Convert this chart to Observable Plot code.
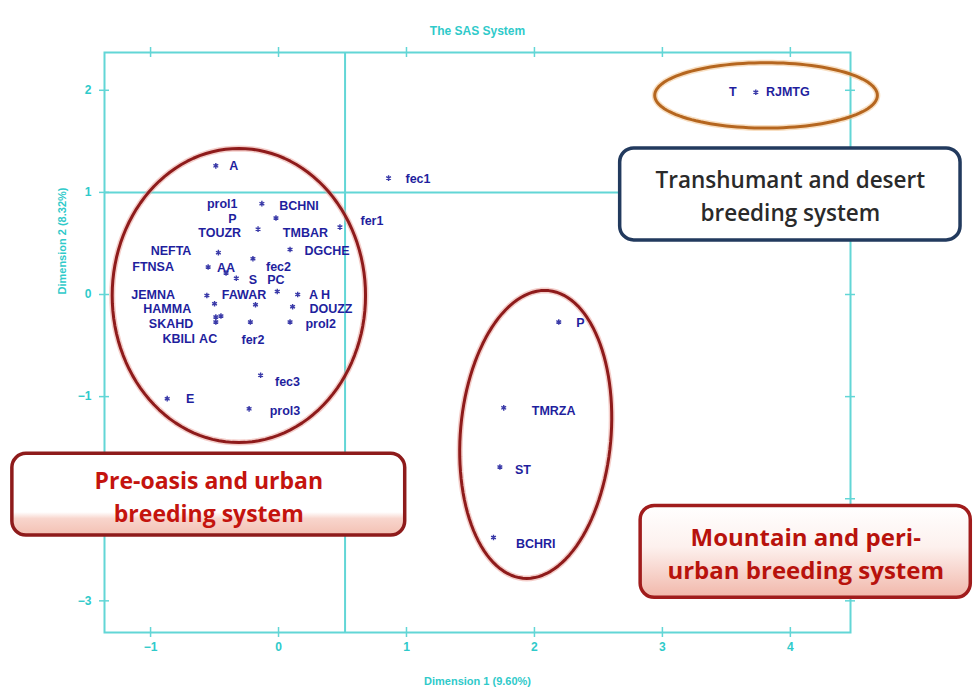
<!DOCTYPE html>
<html><head><meta charset="utf-8">
<script src="https://cdn.jsdelivr.net/npm/d3@7"></script>
<script src="https://cdn.jsdelivr.net/npm/@observablehq/plot@0.6"></script>
<style>body{margin:0;background:#fff}</style>
</head><body><div id="chart"></div>
<script>
// ---- data (Dimension 1 / Dimension 2 coordinates) ----
const pointX = [-0.49, 0.86, 3.73, -0.13, -0.02, -0.16, 0.48, -0.47, 0.09, -0.55, -0.20, -0.41, -0.33, -0.56, -0.01, 0.15, -0.50, -0.18, 0.11, -0.49, -0.45, -0.49, -0.22, 0.09, -0.14, -0.23, -0.87, 2.19, 1.76, 1.73, 1.68];
const pointY = [1.26, 1.14, 1.98, 0.89, 0.75, 0.64, 0.66, 0.41, 0.44, 0.27, 0.35, 0.21, 0.16, -0.01, 0.03, 0.00, -0.09, -0.10, -0.12, -0.22, -0.21, -0.27, -0.27, -0.27, -0.79, -1.12, -1.02, -0.27, -1.11, -1.69, -2.38];

const labelText = ["A","fec1","fer1","T","RJMTG","prol1","BCHNI","P","TOUZR","TMBAR","NEFTA","DGCHE","FTNSA","AA","fec2","S","PC","JEMNA","FAWAR","A H","HAMMA","DOUZZ","SKAHD","prol2","KBILI","AC","fer2","fec3","prol3","E","P","TMRZA","ST","BCHRI"];
const labelX = [-0.35, 1.09, 0.73, 3.55, 3.98, -0.44, 0.16, -0.36, -0.46, 0.21, -0.84, 0.38, -0.98, -0.41, 0.00, -0.20, -0.02, -0.98, -0.27, 0.32, -0.87, 0.41, -0.84, 0.33, -0.78, -0.55, -0.20, 0.07, 0.05, -0.69, 2.36, 2.15, 1.91, 2.01];
const labelY = [1.26, 1.13, 0.72, 1.98, 1.98, 0.885, 0.87, 0.74, 0.60, 0.60, 0.43, 0.43, 0.27, 0.26, 0.27, 0.14, 0.14, 0.00, 0.00, 0.00, -0.145, -0.14, -0.285, -0.29, -0.44, -0.44, -0.45, -0.86, -1.14, -1.02, -0.28, -1.14, -1.72, -2.44];

const xTicks = [-1, 0, 1, 2, 3, 4];
const yTicks = [2, 1, 0, -1, -2, -3];
const xDomain = [-1.36, 4.47];
const yDomain = [-3.31, 2.37];
const refX = [0.52];
const refY = [1.0];

const titleText = "The SAS System";
const xLabel = "Dimension 1 (9.60%)";
const yLabel = "Dimension 2 (8.32%)";

// group ellipses: center, radii and lean in data units
const ellipseCx = [-0.31, 2.01, 3.81];
const ellipseCy = [-0.01, -1.37, 1.95];
const ellipseRx = [0.99, 0.59, 0.87];
const ellipseRy = [1.44, 1.41, 0.32];
const ellipseLean = [0.0, 0.07, 0.0];
const ellipseColor = ["#8e1b1b", "#8e1b1b", "#b5661f"];
const ellipseHalo = ["#eba69e", "#eba69e", "#f3c58f"];

// annotation boxes
const boxText = ["Transhumant and desert\nbreeding system", "Pre-oasis and urban\nbreeding system", "Mountain and peri-\nurban breeding system"];
const boxX1 = [2.67, -2.08, 2.83];
const boxX2 = [5.33, 0.99, 5.41];
const boxY1 = [0.53, -2.36, -2.97];
const boxY2 = [1.43, -1.56, -2.07];
const boxStroke = ["#223a5e", "#8e1b1b", "#a01c1c"];
const boxFill = ["#ffffff", "url(#pinkFadeA)", "url(#pinkFadeB)"];
const boxTextColor = ["#2a2a2a", "#c4140e", "#b8120c"];
const boxFontSize = [22.5, 23, 24];
const boxFontWeight = [600, 700, 700];

// ---- build ----
const pts = pointX.map((x, i) => ({x, y: pointY[i]}));
const labs = labelText.map((t, i) => ({t, x: labelX[i], y: labelY[i]}));
const ellipses = ellipseCx.map((cx, k) => d3.range(0, 361, 3).map(a => {
  const t = a * Math.PI / 180;
  return {
    x: cx + ellipseRx[k] * Math.cos(t) + ellipseLean[k] * Math.sin(t),
    y: ellipseCy[k] + ellipseRy[k] * Math.sin(t)
  };
}));
const boxes = boxText.map((t, i) => ({t, x1: boxX1[i], x2: boxX2[i], y1: boxY1[i], y2: boxY2[i],
  cx: (boxX1[i] + boxX2[i]) / 2, cy: (boxY1[i] + boxY2[i]) / 2}));

const cyan = "#62d6d6";
const cyanText = "#2fcaca";
const sasFont = "'Liberation Sans Narrow', 'Liberation Sans', Arial, sans-serif";
const fmt = d => d < 0 ? "\u2212" + (-d) : String(d);

const marks = [
  Plot.frame({stroke: cyan, strokeWidth: 2}),
  Plot.ruleX(refX, {stroke: cyan, strokeWidth: 2}),
  Plot.ruleY(refY, {stroke: cyan, strokeWidth: 2}),
  Plot.ruleX(xTicks, {x: d => d, y1: yDomain[0], y2: yDomain[0], insetTop: -5, insetBottom: -5, stroke: cyan, strokeWidth: 1.5}),
  Plot.ruleX(xTicks, {x: d => d, y1: yDomain[1], y2: yDomain[1], insetTop: -5, insetBottom: -5, stroke: cyan, strokeWidth: 1.5}),
  Plot.ruleY(yTicks, {y: d => d, x1: xDomain[0], x2: xDomain[0], insetLeft: -5, insetRight: -5, stroke: cyan, strokeWidth: 1.5}),
  Plot.ruleY(yTicks, {y: d => d, x1: xDomain[1], x2: xDomain[1], insetLeft: -5, insetRight: -5, stroke: cyan, strokeWidth: 1.5}),
  Plot.axisX(xTicks, {tickSize: 0, tickPadding: 10, tickFormat: fmt, fill: cyanText, fontWeight: "bold", fontSize: 12, fontFamily: sasFont, label: null}),
  Plot.axisY(yTicks, {tickSize: 0, tickPadding: 13, tickFormat: fmt, fill: cyanText, fontWeight: "bold", fontSize: 12, fontFamily: sasFont, label: null}),
  Plot.text([titleText], {frameAnchor: "top", dy: -26, fill: cyanText, fontWeight: "bold", fontSize: 12, fontFamily: sasFont}),
  Plot.text([xLabel], {frameAnchor: "bottom", dy: 52, fill: cyanText, fontWeight: "bold", fontSize: 11, fontFamily: sasFont}),
  Plot.text([yLabel], {frameAnchor: "left", dx: -42, dy: -48, rotate: -90, fill: cyanText, fontWeight: "bold", fontSize: 11, fontFamily: sasFont}),
  Plot.dot(pts, {x: "x", y: "y", symbol: "asterisk", r: 2.6, stroke: "#3a3aa8", strokeWidth: 1.4}),
  Plot.text(labs, {x: "x", y: "y", text: "t", fill: "#1f1f9e", fontWeight: "bold", fontSize: 12.5, fontFamily: sasFont})
];
ellipses.forEach((e, k) => {
  marks.push(Plot.line(e, {x: "x", y: "y", stroke: ellipseHalo[k], strokeWidth: 6, strokeOpacity: 0.55}));
  marks.push(Plot.line(e, {x: "x", y: "y", stroke: ellipseColor[k], strokeWidth: 3}));
});
boxes.forEach((b, i) => {
  marks.push(Plot.rect([b], {x1: "x1", x2: "x2", y1: "y1", y2: "y2", rx: 14, fill: boxFill[i], stroke: boxStroke[i], strokeWidth: 3.5}));
  marks.push(Plot.text([b], {x: "cx", y: "cy", text: "t", fill: boxTextColor[i], fontWeight: boxFontWeight[i], fontSize: boxFontSize[i], lineHeight: 33 / boxFontSize[i], fontFamily: "'Open Sans', sans-serif"}));
});

const chart = Plot.plot({
  width: 975, height: 694,
  marginLeft: 104, marginRight: 125, marginTop: 52, marginBottom: 62,
  x: {domain: xDomain},
  y: {domain: yDomain},
  style: {background: "white", overflow: "visible"},
  marks
});
const ns = "http://www.w3.org/2000/svg";
const defs = document.createElementNS(ns, "defs");
defs.innerHTML = `<linearGradient id="pinkFadeA" x1="0" y1="0" x2="0" y2="1"><stop offset="0" stop-color="#ffffff"/><stop offset="0.72" stop-color="#ffffff"/><stop offset="0.8" stop-color="#f8d5cc"/><stop offset="1" stop-color="#f3c0b3"/></linearGradient>
<linearGradient id="pinkFadeB" x1="0" y1="0" x2="0" y2="1"><stop offset="0" stop-color="#ffffff"/><stop offset="0.45" stop-color="#fdf1ee"/><stop offset="1" stop-color="#f1b7aa"/></linearGradient>`;
chart.insertBefore(defs, chart.firstChild);
document.getElementById("chart").appendChild(chart);
</script>
</body></html>
